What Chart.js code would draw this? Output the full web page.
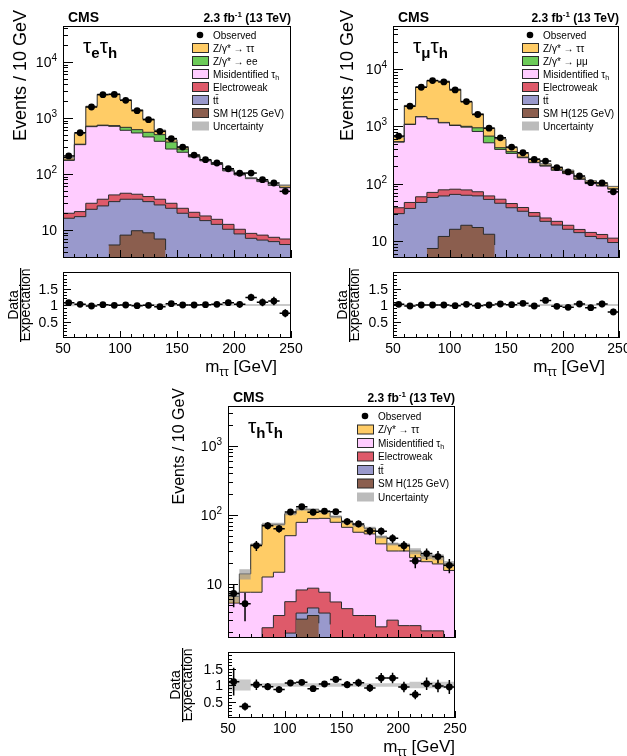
<!DOCTYPE html>
<html>
<head>
<meta charset="utf-8">
<title>m_tautau distributions</title>
<script src="https://cdn.jsdelivr.net/npm/chart.js@4.4.1/dist/chart.umd.min.js"></script>
<style>
  html, body { margin: 0; padding: 0; background: #fff; }
  body { position: relative; width: 627px; height: 756px; overflow: hidden; }
  canvas { position: absolute; }
</style>
</head>
<body>
<canvas id="etMain" width="313" height="262" style="left:0px;top:0px"></canvas>
<canvas id="etRatio" width="313" height="118" style="left:0px;top:262px"></canvas>
<canvas id="mtMain" width="314" height="262" style="left:313px;top:0px"></canvas>
<canvas id="mtRatio" width="314" height="118" style="left:313px;top:262px"></canvas>
<canvas id="ttMain" width="320" height="262" style="left:150px;top:380px"></canvas>
<canvas id="ttRatio" width="320" height="114" style="left:150px;top:642px"></canvas>
<script>
const FONT = '"Liberation Sans", Arial, Helvetica, sans-serif';

// low edges of the m_tautau bins (GeV)
const massBins = [50, 60, 70, 80, 90, 100, 110, 120, 130, 140, 150, 160, 170, 180, 190, 200, 210, 220, 230, 240];
const binWidth = 10;
const massTicks = [50, 100, 150, 200, 250];
const ratioTicks = [0.5, 1, 1.5];

// e tau_h channel
const et_obs = [210, 545, 1571, 2610, 2640, 2070, 1352, 933, 578, 428, 303, 218, 180, 157, 124, 103, 104, 79, 69, 49];
const et_h = [0, 0, 0, 0, 5.4, 8.1, 9.7, 8.9, 6.9, 4.4, 0, 0, 0, 0, 0, 0, 0, 0, 0, 0];
const et_tt = [16.2, 17.3, 23.4, 26.9, 26.7, 27.3, 25.7, 23.2, 21.1, 20.0, 19.9, 16.8, 14.7, 12.6, 10.3, 8.5, 7.1, 6.6, 6.2, 5.5];
const et_ew = [3.7, 4.0, 6.6, 8.5, 10.2, 9.9, 8.1, 7.4, 7.4, 5.6, 4.5, 3.9, 3.1, 2.9, 2.3, 1.8, 1.6, 1.5, 1.2, 1.4];
const et_fake = [155, 313, 670, 695, 668, 558, 497, 419, 348, 249, 220, 181, 154, 132, 101, 86, 74, 65, 55, 50];
const et_zll = [3, 6, 15, 15, 20, 78, 79, 97, 121, 93, 35, 5, 3, 3, 2, 2, 1, 1, 1, 1];
const et_ztt = [17, 190, 899, 1895, 1940, 1419, 781, 400, 99, 39, 21, 9, 5, 7, 4, 5, 2, 2, 1, 5];
const et_unc = [0.04, 0.03, 0.03, 0.03, 0.03, 0.03, 0.03, 0.03, 0.03, 0.03, 0.03, 0.03, 0.03, 0.03, 0.03, 0.03, 0.03, 0.03, 0.03, 0.03];
const et_ratio = [1.07, 1.02, 0.97, 1.01, 0.99, 1.0, 0.98, 0.99, 0.95, 1.04, 1.0, 1.0, 1.01, 1.02, 1.07, 1.02, 1.23, 1.08, 1.12, 0.75];
const et_ratioErr = [0.07, 0.04, 0.03, 0.02, 0.02, 0.02, 0.03, 0.03, 0.04, 0.05, 0.06, 0.07, 0.07, 0.08, 0.09, 0.1, 0.11, 0.12, 0.13, 0.12];
const et_labels = ['Observed', 'Z/γ* → ττ', 'Z/γ* → ee', 'Misidentified τ_{h}', 'Electroweak', 'tt\u0304', 'SM H(125 GeV)', 'Uncertainty'];

// mu tau_h channel
const mt_obs = [675, 2244, 4800, 6270, 5940, 4310, 2700, 1607, 930, 631, 434, 346, 265, 248, 190, 160, 136, 104, 103, 72];
const mt_h = [0, 0, 0, 7.4, 12, 16, 18.8, 17.2, 13.1, 8.5, 0, 0, 0, 0, 0, 0, 0, 0, 0, 0];
const mt_tt = [30, 37, 47, 50, 49, 49, 44, 44, 40, 37, 38, 33, 27, 22, 19, 16, 14, 12, 11, 9.4];
const mt_ew = [8, 10, 12, 13, 17, 15, 15, 11, 8, 8, 7, 5.4, 4.3, 3.2, 3.0, 2.8, 1.9, 2.1, 2.0, 1.8];
const mt_fake = [492, 1030, 1403, 1279, 1072, 953, 890, 741, 455, 342, 292, 245, 201, 177, 149, 131, 103, 86, 78, 69];
const mt_zll = [10, 13, 18, 21, 20, 17, 32, 129, 159, 28, 24, 7, 4, 3, 3, 2, 2, 2, 1, 1];
const mt_ztt = [110, 1210, 3370, 4900, 4930, 3380, 1680, 708, 245, 182, 64, 45, 36, 16, 21, 19, 10, 10, 8, 8];
const mt_unc = [0.04, 0.03, 0.03, 0.03, 0.03, 0.03, 0.03, 0.03, 0.03, 0.03, 0.03, 0.03, 0.03, 0.03, 0.03, 0.03, 0.03, 0.03, 0.03, 0.03];
const mt_ratio = [1.02, 0.97, 1.0, 1.0, 1.0, 0.98, 1.02, 0.98, 1.0, 1.03, 1.01, 1.05, 0.97, 1.14, 0.96, 0.93, 1.03, 0.92, 1.03, 0.79];
const mt_ratioErr = [0.04, 0.02, 0.02, 0.01, 0.01, 0.02, 0.02, 0.03, 0.03, 0.04, 0.05, 0.05, 0.06, 0.07, 0.07, 0.08, 0.09, 0.09, 0.1, 0.1];
const mt_labels = ['Observed', 'Z/γ* → ττ', 'Z/γ* → μμ', 'Misidentified τ_{h}', 'Electroweak', 'tt\u0304', 'SM H(125 GeV)', 'Uncertainty'];

// tau_h tau_h channel
const tt_obs = [7.3, 5.2, 36, 69.7, 63, 110, 131, 109, 113, 111, 80, 74, 58.4, 58, 45.7, 35.8, 21.5, 27.5, 24.9, 18.6];
const tt_obsErr = [2.7, 2.3, 6, 8.4, 8, 10.5, 11.5, 10.5, 10.6, 10.5, 9, 8.6, 7.6, 7.6, 6.8, 6, 4.6, 5.2, 5, 4.3];
const tt_h = [0, 0, 0, 0, 0, 0, 3.1, 3.5, 2.7, 0, 0, 0, 0, 0, 0, 0, 0, 0, 0, 0];
const tt_tt = [0, 0, 0, 0, 0, 1.95, 0.7, 1.0, 1.1, 2.6, 0, 0, 0, 0, 0, 0, 0, 0, 0, 0];
const tt_ew = [1.0, 1.0, 1.2, 2.33, 3.5, 3.6, 4.4, 4.2, 3.8, 2.9, 4.4, 3.5, 3.5, 2.4, 3.0, 2.5, 2.5, 2.1, 2.1, 1.4];
const tt_fake = [4.3, 6.6, 6.4, 10.3, 11.3, 44.4, 69.7, 79.3, 81.4, 72.5, 61.6, 52.5, 49.5, 35.6, 27, 27.5, 21.5, 18.9, 17.4, 14.3];
const tt_ztt = [1.3, 6.4, 29.4, 60.4, 58.2, 54, 43, 31, 22, 16, 13, 15, 11, 10, 8, 7, 6, 4.5, 5, 3.9];
const tt_unc = [0.17, 0.17, 0.05, 0.05, 0.05, 0.05, 0.05, 0.05, 0.05, 0.05, 0.05, 0.05, 0.05, 0.05, 0.05, 0.05, 0.1, 0.1, 0.1, 0.1];
const tt_ratio = [1.10, 0.35, 1.01, 0.95, 0.86, 1.06, 1.08, 0.89, 1.03, 1.17, 1.01, 1.07, 0.91, 1.21, 1.21, 0.94, 0.71, 1.04, 0.97, 0.94];
const tt_ratioErr = [0.42, 0.12, 0.16, 0.11, 0.1, 0.09, 0.09, 0.09, 0.09, 0.1, 0.11, 0.12, 0.12, 0.15, 0.16, 0.16, 0.14, 0.19, 0.19, 0.21];
const tt_labels = ['Observed', 'Z/γ* → ττ', 'Misidentified τ_{h}', 'Electroweak', 'tt\u0304', 'SM H(125 GeV)', 'Uncertainty'];

const colors = {
    ztt: '#FFCC66',
    zll: '#6CCB58',
    fake: '#FFCCFF',
    ew: '#DE5A6A',
    tt: '#9999CC',
    h: '#8B5E4E',
    unc: 'rgba(150,150,150,0.65)',
    ratioUnc: 'rgba(165,165,165,0.6)',
    outline: '#2b2b2b'
};

// ---- small text helper: handles _{sub} and ^{sup} ----
function richParts(str) {
    const parts = [];
    const re = /([_^])\{([^}]*)\}/g;
    let last = 0, m;
    while ((m = re.exec(str))) {
        if (m.index > last) parts.push({ t: str.slice(last, m.index), mode: 0 });
        parts.push({ t: m[2], mode: m[1] === '_' ? 1 : 2 });
        last = re.lastIndex;
    }
    if (last < str.length) parts.push({ t: str.slice(last), mode: 0 });
    return parts;
}

function drawRich(ctx, str, x, y, size, opt) {
    opt = opt || {};
    const w0 = opt.bold ? 'bold ' : '';
    const w1 = opt.subBold ? 'bold ' : w0;
    const fontFor = p => p.mode === 0 ? w0 + size + 'px ' + FONT : w1 + Math.round(size * 0.7) + 'px ' + FONT;
    const parts = richParts(str);
    let total = 0;
    parts.forEach(p => { ctx.font = fontFor(p); p.w = ctx.measureText(p.t).width; total += p.w; });
    let cx = x;
    if (opt.align === 'right') cx = x - total;
    if (opt.align === 'center') cx = x - total / 2;
    ctx.textAlign = 'left';
    ctx.textBaseline = 'alphabetic';
    ctx.fillStyle = opt.color || '#000';
    parts.forEach(p => {
        ctx.font = fontFor(p);
        const dy = p.mode === 1 ? size * 0.25 : (p.mode === 2 ? -size * 0.42 : 0);
        ctx.fillText(p.t, cx, y + dy);
        cx += p.w;
    });
    return total;
}

function stepPoints(vals) {
    const pts = massBins.map((x, i) => ({ x: x, y: vals[i] }));
    pts.push({ x: massBins[massBins.length - 1] + binWidth, y: vals[vals.length - 1] });
    return pts;
}

function centerPoints(vals) {
    return vals.map((v, i) => ({ x: massBins[i] + binWidth / 2, y: v }));
}

// error bars for datasets that carry errX / errY
const errorBars = {
    id: 'errorBars',
    afterDatasetsDraw(chart) {
        const ctx = chart.ctx, ca = chart.chartArea;
        const xs = chart.scales.x, ys = chart.scales.y;
        ctx.save();
        ctx.beginPath();
        ctx.rect(ca.left, ca.top, ca.right - ca.left, ca.bottom - ca.top);
        ctx.clip();
        ctx.strokeStyle = '#000';
        ctx.lineWidth = 1.5;
        chart.data.datasets.forEach(ds => {
            if (!ds.errX) return;
            ds.data.forEach((p, i) => {
                const px = xs.getPixelForValue(p.x);
                const py = ys.getPixelForValue(p.y);
                ctx.beginPath();
                ctx.moveTo(xs.getPixelForValue(p.x - ds.errX), py);
                ctx.lineTo(xs.getPixelForValue(p.x + ds.errX), py);
                if (ds.errY) {
                    const e = ds.errY[i];
                    ctx.moveTo(px, ys.getPixelForValue(p.y + e));
                    ctx.lineTo(px, ys.getPixelForValue(Math.max(p.y - e, ys.min)));
                }
                ctx.stroke();
            });
        });
        ctx.restore();
    }
};
Chart.register(errorBars);

// frame, inward ticks and tick labels
function drawFrame(chart, isLog, isRatio) {
    const ctx = chart.ctx, ca = chart.chartArea;
    const xs = chart.scales.x, ys = chart.scales.y;
    ctx.save();
    ctx.strokeStyle = '#000';
    ctx.lineWidth = 1;
    ctx.beginPath();
    const xMaj = isRatio ? 7 : 8, xMin = 4;
    for (let m = 50; m <= 250; m += 10) {
        const px = Math.round(xs.getPixelForValue(m)) + 0.5;
        const len = m % 50 === 0 ? xMaj : xMin;
        ctx.moveTo(px, ca.bottom);
        ctx.lineTo(px, ca.bottom - len);
    }
    if (isLog) {
        const d0 = Math.floor(Math.log10(ys.min)), d1 = Math.ceil(Math.log10(ys.max));
        for (let d = d0; d <= d1; d++) {
            for (let k = 1; k <= 9; k++) {
                const v = k * Math.pow(10, d);
                if (v < ys.min || v > ys.max) continue;
                const py = Math.round(ys.getPixelForValue(v)) + 0.5;
                ctx.moveTo(ca.left, py);
                ctx.lineTo(ca.left + (k === 1 ? 10 : 5), py);
            }
        }
    } else {
        for (let k = 1; k < 20; k++) {
            const v = k / 10;
            const py = Math.round(ys.getPixelForValue(v)) + 0.5;
            ctx.moveTo(ca.left, py);
            ctx.lineTo(ca.left + (k % 5 === 0 ? 8 : 4), py);
        }
    }
    ctx.stroke();
    ctx.strokeRect(Math.round(ca.left) + 0.5, Math.round(ca.top) + 0.5,
        Math.round(ca.right - ca.left) - 1, Math.round(ca.bottom - ca.top) - 1);

    // tick labels
    if (isLog) {
        const d0 = Math.ceil(Math.log10(ys.min)), d1 = Math.floor(Math.log10(ys.max));
        for (let d = d0; d <= d1; d++) {
            const py = ys.getPixelForValue(Math.pow(10, d));
            drawRich(ctx, d === 1 ? '10' : '10^{' + d + '}', ca.left - 6, py + 5, 14, { align: 'right' });
        }
    } else {
        ratioTicks.forEach(v => {
            drawRich(ctx, String(v), ca.left - 5, ys.getPixelForValue(v) + 5, 14, { align: 'right' });
        });
        massTicks.forEach(v => {
            drawRich(ctx, String(v), xs.getPixelForValue(v), ca.bottom + 15, 14, { align: 'center' });
        });
    }
    ctx.restore();
}

function mainDecor(cfg) {
    return {
        id: 'mainDecor',
        afterDraw(chart) {
            drawFrame(chart, true, false);
            const ctx = chart.ctx, ca = chart.chartArea;
            ctx.save();
            drawRich(ctx, 'CMS', ca.left + 5, ca.top - 4, 14, { bold: true });
            drawRich(ctx, '2.3 fb^{-1} (13 TeV)', ca.right, ca.top - 4, 12, { bold: true, align: 'right' });
            drawRich(ctx, cfg.channel, ca.left + 20, ca.top + 27, 21, { subBold: true });

            // y axis title
            ctx.save();
            ctx.translate(ca.left + cfg.yTitleDx, ca.top + cfg.yTitleDy);
            ctx.rotate(-Math.PI / 2);
            drawRich(ctx, 'Events / 10 GeV', 0, 0, cfg.yTitleSize, { align: 'right' });
            ctx.restore();

            // legend
            const bx = ca.left + 129;
            cfg.legend.forEach((item, k) => {
                const cy = ca.top + cfg.legTop + k * cfg.legRow;
                if (item.dot) {
                    ctx.fillStyle = '#000';
                    ctx.beginPath();
                    ctx.arc(bx + 8, cy, 3.3, 0, Math.PI * 2);
                    ctx.fill();
                } else {
                    ctx.fillStyle = item.color;
                    ctx.fillRect(bx, cy - 4.5, 17, 9);
                    if (item.border) {
                        ctx.strokeStyle = colors.outline;
                        ctx.lineWidth = 1;
                        ctx.strokeRect(bx + 0.5, cy - 4.5, 16, 9);
                    }
                }
                drawRich(ctx, item.label, bx + 21, cy + 3.6, 10);
            });
            ctx.restore();
        }
    };
}

function ratioDecor(cfg) {
    return {
        id: 'ratioDecor',
        afterDraw(chart) {
            drawFrame(chart, false, true);
            const ctx = chart.ctx, ca = chart.chartArea;
            ctx.save();
            ctx.translate(ca.left + cfg.ratioDx, (ca.top + ca.bottom) / 2);
            ctx.rotate(-Math.PI / 2);
            drawRich(ctx, 'Data', 0, 0, 14, { align: 'center' });
            ctx.fillStyle = '#000';
            ctx.fillRect(-37, 2, 74, 1.2);
            drawRich(ctx, 'Expectation', 0, 12, 14, { align: 'center' });
            ctx.restore();
            drawRich(ctx, 'm_{ττ} [GeV]', ca.right + cfg.xTitleDx, ca.bottom + 34, 17, { align: 'right' });
        }
    };
}

function buildMain(id, layers, layerColors, obs, obsErr, unc, yMin, yMax, pad, cfg) {
    const cum = [];
    let run = massBins.map(() => 0);
    layers.forEach(l => {
        run = run.map((v, i) => v + l[i]);
        cum.push(run);
    });
    const total = cum[cum.length - 1];
    const datasets = [];
    datasets.push({
        data: centerPoints(obs), showLine: false, pointRadius: 3.4,
        pointBackgroundColor: '#000', pointBorderWidth: 0, borderColor: '#000',
        errX: binWidth / 2, errY: obsErr
    });
    datasets.push({
        data: stepPoints(total.map((v, i) => v * (1 + unc[i]))), stepped: true,
        fill: '+1', backgroundColor: colors.unc, borderColor: 'rgba(0,0,0,0)', pointRadius: 0
    });
    datasets.push({
        data: stepPoints(total.map((v, i) => v * (1 - unc[i]))), stepped: true,
        fill: false, borderColor: 'rgba(0,0,0,0)', pointRadius: 0
    });
    cum.forEach((c, k) => {
        datasets.push({
            data: stepPoints(c), stepped: true, fill: 'start',
            backgroundColor: layerColors[k], borderColor: colors.outline, borderWidth: 1, pointRadius: 0
        });
    });
    return new Chart(document.getElementById(id), {
        type: 'line',
        data: { datasets: datasets },
        options: {
            responsive: false,
            animation: false,
            events: [],
            layout: { padding: pad },
            plugins: { legend: { display: false }, tooltip: { enabled: false } },
            scales: {
                x: { type: 'linear', min: 50, max: 250, display: false },
                y: { type: 'logarithmic', min: yMin, max: yMax, display: false }
            }
        },
        plugins: [mainDecor(cfg)]
    });
}

function buildRatio(id, ratio, ratioErr, unc, pad, cfg) {
    return new Chart(document.getElementById(id), {
        type: 'line',
        data: {
            datasets: [
                {
                    data: centerPoints(ratio), showLine: false, pointRadius: 3.4,
                    pointBackgroundColor: '#000', pointBorderWidth: 0, borderColor: '#000',
                    errX: binWidth / 2, errY: ratioErr
                },
                {
                    data: stepPoints(unc.map(u => 1 + u)), stepped: true, fill: '+1',
                    backgroundColor: colors.ratioUnc, borderColor: 'rgba(0,0,0,0)', pointRadius: 0
                },
                {
                    data: stepPoints(unc.map(u => 1 - u)), stepped: true, fill: false,
                    borderColor: 'rgba(0,0,0,0)', pointRadius: 0
                }
            ]
        },
        options: {
            responsive: false,
            animation: false,
            events: [],
            layout: { padding: pad },
            plugins: { legend: { display: false }, tooltip: { enabled: false } },
            scales: {
                x: { type: 'linear', min: 50, max: 250, display: false },
                y: { type: 'linear', min: 0, max: 2, display: false }
            }
        },
        plugins: [ratioDecor(cfg)]
    });
}

function legendItems(labels, fills) {
    return labels.map((label, i) => i === 0
        ? { label: label, dot: true }
        : { label: label, color: fills[i - 1], border: i < labels.length - 1 });
}

// e tau_h
buildMain('etMain',
    [et_h, et_tt, et_ew, et_fake, et_zll, et_ztt],
    [colors.h, colors.tt, colors.ew, colors.fake, colors.zll, colors.ztt],
    et_obs, null, et_unc, 3.16, 43950,
    { left: 63, top: 26, right: 22, bottom: 4 },
    {
        channel: 'τ_{e}τ_{h}', yTitleDx: -37, yTitleDy: -16, yTitleSize: 18, legTop: 9, legRow: 13,
        legend: legendItems(et_labels, [colors.ztt, colors.zll, colors.fake, colors.ew, colors.tt, colors.h, colors.unc])
    });
buildRatio('etRatio', et_ratio, et_ratioErr, et_unc,
    { left: 63, top: 10, right: 22, bottom: 42 }, { ratioDx: -45, xTitleDx: -14 });

// mu tau_h
buildMain('mtMain',
    [mt_h, mt_tt, mt_ew, mt_fake, mt_zll, mt_ztt],
    [colors.h, colors.tt, colors.ew, colors.fake, colors.zll, colors.ztt],
    mt_obs, null, mt_unc, 5.05, 56200,
    { left: 80, top: 26, right: 8, bottom: 4 },
    {
        channel: 'τ_{μ}τ_{h}', yTitleDx: -40, yTitleDy: -16, yTitleSize: 18, legTop: 9, legRow: 13,
        legend: legendItems(mt_labels, [colors.ztt, colors.zll, colors.fake, colors.ew, colors.tt, colors.h, colors.unc])
    });
buildRatio('mtRatio', mt_ratio, mt_ratioErr, mt_unc,
    { left: 80, top: 10, right: 8, bottom: 42 }, { ratioDx: -46, xTitleDx: -14 });

// tau_h tau_h
buildMain('ttMain',
    [tt_h, tt_tt, tt_ew, tt_fake, tt_ztt],
    [colors.h, colors.tt, colors.ew, colors.fake, colors.ztt],
    tt_obs, tt_obsErr, tt_unc, 1.656, 3750,
    { left: 78, top: 26, right: 15, bottom: 4 },
    {
        channel: 'τ_{h}τ_{h}', yTitleDx: -44, yTitleDy: -18, yTitleSize: 16, legTop: 10, legRow: 13.5,
        legend: legendItems(tt_labels, [colors.ztt, colors.fake, colors.ew, colors.tt, colors.h, colors.unc])
    });
buildRatio('ttRatio', tt_ratio, tt_ratioErr, tt_unc,
    { left: 78, top: 10, right: 15, bottom: 38 }, { ratioDx: -48, xTitleDx: 0 });
</script>
</body>
</html>
